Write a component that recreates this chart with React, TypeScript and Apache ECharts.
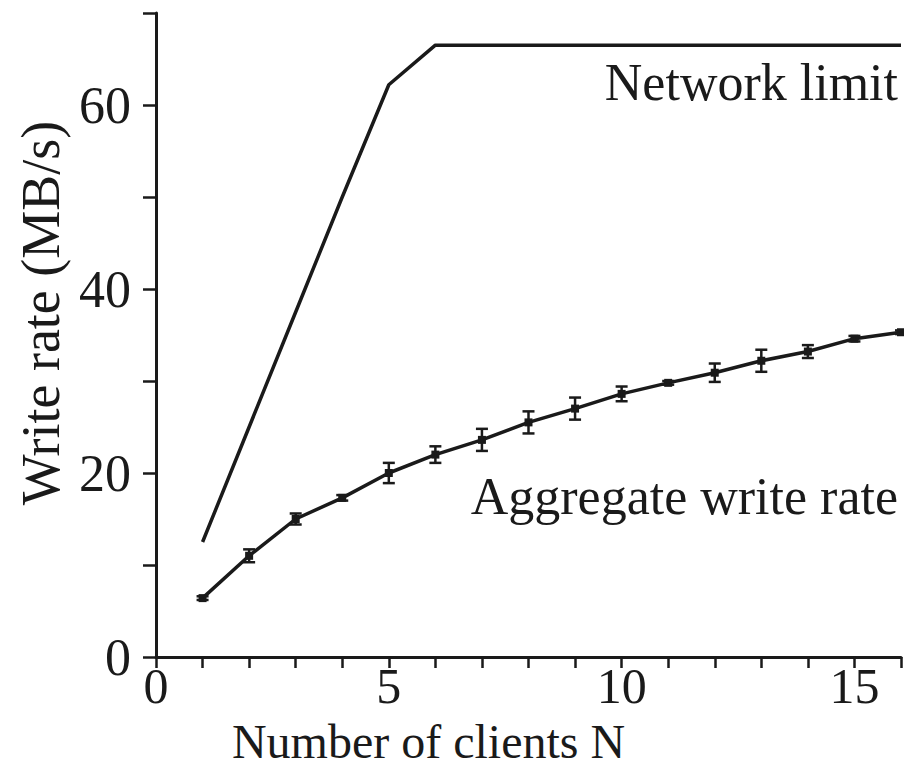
import React, { useEffect, useRef } from "react";
import * as echarts from "echarts";

// ---- data ----
const clients = [1, 2, 3, 4, 5, 6, 7, 8, 9, 10, 11, 12, 13, 14, 15, 16];
const networkLimit = [12.5, 25, 37.5, 50, 62.2, 66.5, 66.5, 66.5, 66.5, 66.5, 66.5, 66.5, 66.5, 66.5, 66.5, 66.5];
const aggregateRate = [6.4, 11.0, 15.0, 17.3, 20.0, 22.0, 23.6, 25.5, 27.0, 28.6, 29.8, 30.9, 32.2, 33.2, 34.6, 35.3];
const aggregateErr = [0.2, 0.7, 0.6, 0.3, 1.1, 0.9, 1.2, 1.2, 1.2, 0.8, 0.2, 1.0, 1.2, 0.7, 0.3, 0.2];
const xTickLabels = [0, 5, 10, 15];
const yTickLabels = [0, 20, 40, 60];
const seriesNames = ["Network limit", "Aggregate write rate"];
const xAxisTitle = "Number of clients N";
const yAxisTitle = "Write rate (MB/s)";

const FONT = "'Liberation Serif', 'DejaVu Serif', serif";
const INK = "#1a1a1a";

export default function App() {
  const ref = useRef<HTMLDivElement>(null);

  useEffect(() => {
    if (!ref.current) return;
    const chart = echarts.init(ref.current, undefined, { renderer: "svg" });

    const netData = clients.map((c, i) => [c, networkLimit[i]]);
    const aggData = clients.map((c, i) => [c, aggregateRate[i]]);
    const errData = clients.map((c, i) => [c, aggregateRate[i] - aggregateErr[i], aggregateRate[i] + aggregateErr[i]]);

    chart.setOption({
      animation: false,
      backgroundColor: "#ffffff",
      grid: { left: 156, right: 3, top: 13, bottom: 111, outerBoundsMode: "none", containLabel: false },
      xAxis: {
        type: "value",
        min: 0,
        max: 16,
        interval: 1,
        splitLine: { show: false },
        axisLine: { onZero: false, lineStyle: { color: INK, width: 3 } },
        axisTick: { show: true, length: 11, lineStyle: { color: INK, width: 2.5 } },
        axisLabel: {
          margin: 7,
          color: INK,
          fontFamily: FONT,
          fontSize: 50,
          lineHeight: 44,
          formatter: (v: number) => (xTickLabels.includes(v) ? String(v) : ""),
        },
        name: xAxisTitle,
        nameLocation: "middle",
        nameGap: 62,
        nameMoveOverlap: false,
        nameTextStyle: { color: INK, fontFamily: FONT, fontSize: 48, lineHeight: 44, padding: [0, 200, 0, 0] },
      },
      yAxis: {
        type: "value",
        min: 0,
        max: 70,
        interval: 10,
        splitLine: { show: false },
        axisLine: { onZero: false, lineStyle: { color: INK, width: 3 } },
        axisTick: { show: true, length: 13, lineStyle: { color: INK, width: 2.5 } },
        axisLabel: {
          margin: 25,
          color: INK,
          fontFamily: FONT,
          fontSize: 52,
          formatter: (v: number) => (yTickLabels.includes(v) ? String(v) : ""),
        },
        name: yAxisTitle,
        nameLocation: "middle",
        nameGap: 88,
        nameRotate: 90,
        nameMoveOverlap: false,
        nameTextStyle: { color: INK, fontFamily: FONT, fontSize: 54, padding: [0, 0, 0, 44] },
      },
      graphic: [
        {
          type: "text",
          right: 6,
          top: 56,
          style: { text: seriesNames[0], fill: INK, font: `52px ${FONT}` },
        },
        {
          type: "text",
          right: 6,
          top: 470,
          style: { text: seriesNames[1], fill: INK, font: `52px ${FONT}` },
        },
      ],
      series: [
        {
          name: seriesNames[0],
          type: "line",
          data: netData,
          showSymbol: false,
          symbol: "none",
          lineStyle: { color: INK, width: 3.5 },
          z: 3,
        },
        {
          name: seriesNames[1],
          type: "line",
          data: aggData,
          symbol: "rect",
          symbolSize: 8,
          itemStyle: { color: INK },
          lineStyle: { color: INK, width: 3.5 },
          z: 3,
        },
        {
          name: "error",
          type: "custom",
          data: errData,
          encode: { x: 0, y: [1, 2] },
          z: 4,
          renderItem: (_params: any, api: any) => {
            const x = api.value(0);
            const lo = api.coord([x, api.value(1)]);
            const hi = api.coord([x, api.value(2)]);
            const w = 6;
            const st = { stroke: INK, lineWidth: 2.5 };
            return {
              type: "group",
              children: [
                { type: "line", shape: { x1: lo[0], y1: lo[1], x2: hi[0], y2: hi[1] }, style: st },
                { type: "line", shape: { x1: lo[0] - w, y1: lo[1], x2: lo[0] + w, y2: lo[1] }, style: st },
                { type: "line", shape: { x1: hi[0] - w, y1: hi[1], x2: hi[0] + w, y2: hi[1] }, style: st },
              ],
            };
          },
        },
      ],
    });

    return () => chart.dispose();
  }, []);

  return (
    <div
      ref={ref}
      style={{ position: "absolute", left: 0, top: 0, width: 904, height: 768, background: "#fff" }}
    />
  );
}
